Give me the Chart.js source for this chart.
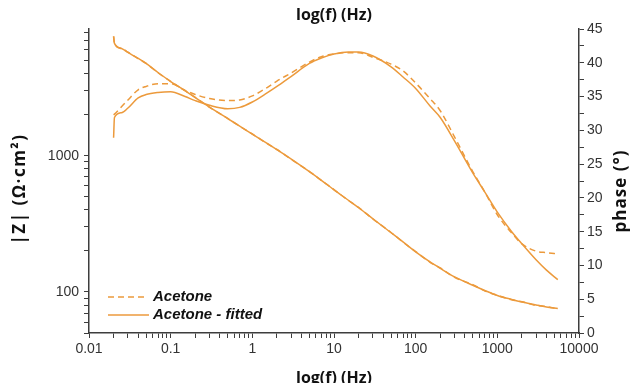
<!DOCTYPE html>
<html>
<head>
<meta charset="utf-8">
<script src="https://cdn.jsdelivr.net/npm/chart.js@4.4.0/dist/chart.umd.min.js"></script>
<style>
    html, body { margin: 0; padding: 0; background: #fff; }
    #bode-wrap { width: 636px; height: 383px; }
</style>
</head>
<body>
<div id="bode-wrap"><canvas id="bode-chart" width="636" height="383"></canvas></div>
<script>
// Frequencies (Hz) and readings from the Bode plot
const frequencies = [0.02, 0.0205, 0.025, 0.03, 0.04, 0.05, 0.07, 0.1, 0.15, 0.2, 0.3, 0.5, 0.7, 1, 1.5, 2, 3, 5, 7, 10,
    15, 20, 30, 50, 70, 100, 150, 200, 300, 500, 700, 1000, 1500, 2000, 3000, 4000, 5500];

// |Z| in Ohm.cm2
const zMeasured = [7500, 6660, 6100, 5740, 5150, 4760, 4060, 3510, 3000, 2680, 2265, 1875, 1645, 1442, 1232, 1110, 940, 765, 658, 564,
    469, 417, 343, 273, 232, 198, 165, 150, 128, 113, 102, 94.5, 87.6, 84.8, 79.6, 78.2, 75];
const zFitted = [7500, 6660, 6121, 5720, 5167, 4748, 4076, 3501, 3005, 2670, 2273, 1871, 1648, 1439, 1236, 1107, 943, 763, 660, 562,
    471, 415, 344, 272, 233, 197, 166, 149, 129, 112, 102.6, 94.2, 88.1, 84.4, 80.2, 77.6, 75.6];

// phase in degrees
const phaseMeasured = [32.3, 32.4, 33.5, 34.5, 36.0, 36.5, 36.9, 36.9, 35.9, 35.3, 34.7, 34.4, 34.5, 35.1, 36.3, 37.3, 38.5, 40.1, 40.9, 41.3,
    41.5, 41.5, 40.8, 39.8, 38.8, 37.0, 34.7, 32.9, 29.0, 23.9, 20.9, 17.5, 14.8, 13.2, 12.1, 11.9, 11.7];
const phaseFitted = [28.9, 31.9, 32.6, 33.3, 34.8, 35.3, 35.6, 35.7, 35.0, 34.4, 33.7, 33.2, 33.4, 34.2, 35.5, 36.5, 38.0, 39.9, 40.7, 41.3,
    41.6, 41.6, 41.0, 39.4, 37.9, 36.2, 33.6, 31.9, 28.4, 23.7, 20.9, 17.9, 15.0, 13.2, 10.8, 9.3, 7.9];

const xLabels = [0.01, 0.1, 1, 10, 100, 1000, 10000];
const zLabels = [100, 1000];

const seriesNames = ['Acetone', 'Acetone - fitted'];
const lineColor = '#ec9a3c';
const axisColor = '#3d3d3d';
const tickFont = { family: 'Liberation Sans', size: 14 };

function toPoints(values) {
    return frequencies.map((f, i) => ({ x: f, y: values[i] }));
}

// keep only 1..9 x 10^n ticks on log axes
function keepNiceTicks(scale) {
    scale.ticks = scale.ticks.filter(t => {
        const m = t.value / Math.pow(10, Math.floor(Math.log10(t.value) + 1e-9));
        return Math.abs(m - Math.round(m)) < 1e-6;
    });
}

function isLabel(list, v) {
    return list.some(l => Math.abs(l - v) / l < 1e-6);
}

// Axis titles and the little legend in the lower left corner
const decorPlugin = {
    id: 'decor',
    afterDraw(chart) {
        const c = chart.ctx;
        const area = chart.chartArea;
        const midX = (area.left + area.right) / 2;
        c.save();
        c.fillStyle = '#111';
        c.textAlign = 'center';
        c.textBaseline = 'middle';
        c.font = 'bold 16px "Open Sans"';
        c.fillText('log(f) (Hz)', midX, 15);
        c.fillText('log(f) (Hz)', midX, 378);

        c.font = 'bold 17px "Open Sans"';
        c.letterSpacing = '1.5px';
        c.save();
        c.translate(20, 189);
        c.rotate(-Math.PI / 2);
        c.fillText('|Z| (\u03A9\u00B7cm\u00B2)', 0, 0);
        c.restore();
        c.letterSpacing = '1px';
        c.save();
        c.translate(621, 191);
        c.rotate(-Math.PI / 2);
        c.fillText('phase (\u00B0)', 0, 0);
        c.restore();
        c.letterSpacing = '0px';

        // legend
        c.strokeStyle = lineColor;
        c.lineWidth = 1.6;
        c.setLineDash([6, 4]);
        c.beginPath();
        c.moveTo(108, 297);
        c.lineTo(146, 297);
        c.stroke();
        c.setLineDash([]);
        c.beginPath();
        c.moveTo(108, 315);
        c.lineTo(149, 315);
        c.stroke();
        c.textAlign = 'left';
        c.font = 'italic bold 15px "Liberation Sans"';
        c.fillText(seriesNames[0], 153, 297);
        c.fillText(seriesNames[1], 153, 315);
        c.restore();
    }
};

function lineSet(label, values, axis, dashed) {
    return {
        label: label,
        data: toPoints(values),
        yAxisID: axis,
        borderColor: lineColor,
        borderWidth: 1.5,
        borderDash: dashed ? [6, 4] : [],
        pointRadius: 0,
        fill: false,
        cubicInterpolationMode: 'monotone'
    };
}

new Chart(document.getElementById('bode-chart'), {
    type: 'line',
    data: {
        datasets: [
            lineSet(seriesNames[0], zMeasured, 'y', true),
            lineSet(seriesNames[1], zFitted, 'y', false),
            lineSet(seriesNames[0], phaseMeasured, 'y1', true),
            lineSet(seriesNames[1], phaseFitted, 'y1', false)
        ]
    },
    options: {
        responsive: false,
        animation: false,
        maintainAspectRatio: false,
        layout: { padding: 0 },
        plugins: {
            legend: { display: false },
            tooltip: { enabled: false }
        },
        scales: {
            x: {
                type: 'logarithmic',
                position: 'bottom',
                min: 0.01,
                max: 10000,
                afterBuildTicks: keepNiceTicks,
                afterFit: s => { s.height = 50; },
                grid: { drawOnChartArea: false, drawTicks: true, tickLength: 5, color: axisColor },
                border: { display: true, color: axisColor, width: 1.5 },
                ticks: {
                    autoSkip: false,
                    maxRotation: 0,
                    padding: 3,
                    color: '#333',
                    font: tickFont,
                    callback: v => isLabel(xLabels, v) ? String(Number(v.toPrecision(3))) : ''
                }
            },
            xTop: {
                type: 'linear',
                position: 'top',
                min: 0,
                max: 1,
                afterFit: s => { s.height = 29; },
                grid: { display: false },
                border: { display: false },
                ticks: { display: false }
            },
            y: {
                type: 'logarithmic',
                position: 'left',
                min: 50,
                max: 8500,
                afterBuildTicks: keepNiceTicks,
                afterFit: s => { s.width = 89; },
                grid: { drawOnChartArea: false, drawTicks: true, tickLength: 5, color: axisColor },
                border: { display: true, color: axisColor, width: 1.5 },
                ticks: {
                    autoSkip: false,
                    padding: 5,
                    color: '#333',
                    font: tickFont,
                    callback: v => isLabel(zLabels, v) ? String(v) : ''
                }
            },
            y1: {
                type: 'linear',
                position: 'right',
                min: 0,
                max: 45,
                afterFit: s => { s.width = 57; },
                grid: { drawOnChartArea: false, drawTicks: true, tickLength: 5, color: axisColor },
                border: { display: true, color: axisColor, width: 1.5 },
                ticks: {
                    stepSize: 2.5,
                    autoSkip: false,
                    padding: 3,
                    color: '#333',
                    font: tickFont,
                    callback: v => (v % 5 === 0) ? String(v) : ''
                }
            }
        }
    },
    plugins: [decorPlugin]
});
</script>
</body>
</html>
